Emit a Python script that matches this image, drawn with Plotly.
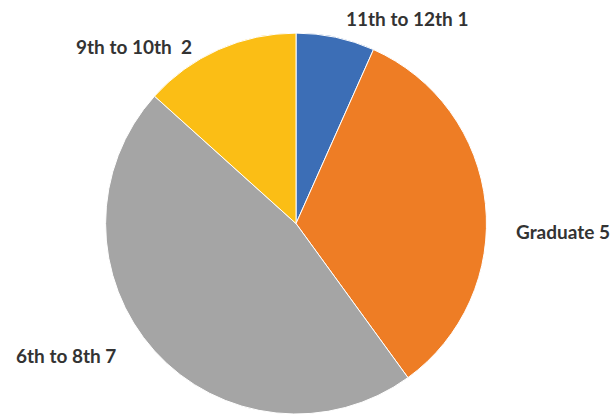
import plotly.graph_objects as go

# Education level counts
labels = ["11th to 12th", "Graduate", "6th to 8th", "9th to 10th"]
values = [1, 5, 7, 2]
colors = ["#3C6EB6", "#EE7D25", "#A5A5A5", "#FBBE15"]
# label text separators (the 9th-10th label carries an extra space)
seps = [" ", " ", " ", "  "]

# outside label anchor positions (paper coordinates)
label_pos = [(0.661, 0.956), (0.914, 0.442), (0.107, 0.142), (0.218, 0.888)]

fig = go.Figure(go.Pie(
    labels=labels,
    values=values,
    sort=False,
    direction="clockwise",
    rotation=0,
    marker=dict(colors=colors, line=dict(color="white", width=1)),
    textinfo="none",
    hoverinfo="label+value",
    domain=dict(x=[0.1705, 0.7906], y=[0.0, 0.92]),
    showlegend=False,
))

for lab, val, sep, (x, y) in zip(labels, values, seps, label_pos):
    fig.add_annotation(
        x=x, y=y, xref="paper", yref="paper",
        text=f"{lab}{sep}{val}", showarrow=False,
        font=dict(family="Lato", size=19, color="#333333", weight="bold"),
        xanchor="center", yanchor="middle",
    )

fig.update_layout(
    width=616, height=414,
    margin=dict(l=0, r=0, t=0, b=0),
    paper_bgcolor="white",
    plot_bgcolor="white",
)

fig.write_html("out.html")
